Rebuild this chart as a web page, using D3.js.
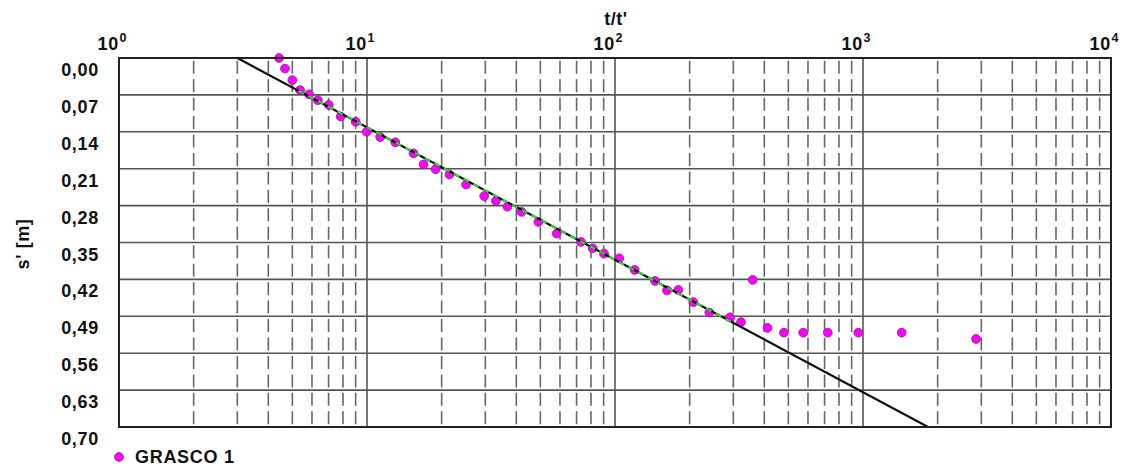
<!DOCTYPE html>
<html>
<head>
<meta charset="utf-8">
<script src="https://cdn.jsdelivr.net/npm/d3@7"></script>
<style>
  html, body { margin: 0; padding: 0; background: #fff; }
  svg { display: block; }
  text { font-family: "Liberation Sans", Arial, sans-serif; font-weight: bold; fill: #111; }
</style>
</head>
<body>
<svg id="chart" width="1122" height="468"></svg>
<script>
// ---- data ----
const xDecades = [1, 10, 100, 1000, 10000];
const xExponents = ["0", "1", "2", "3", "4"];
const yTicks = [0, 0.07, 0.14, 0.21, 0.28, 0.35, 0.42, 0.49, 0.56, 0.63, 0.70];
const tValues = [4.42, 4.67, 5.0, 5.37, 5.84, 6.33, 7.01, 7.83, 9.0, 9.97,
                 11.3, 13.0, 15.4, 16.9, 18.9, 21.5, 25.1, 29.7, 33.1, 36.8,
                 42.0, 49.1, 58.2, 72.9, 81.3, 90.3, 104, 120, 145, 162,
                 180, 207, 240, 291, 322, 359, 412, 480, 574, 721,
                 957, 1432, 2856];
const sValues = [0.000, 0.020, 0.042, 0.061, 0.069, 0.080, 0.089, 0.111, 0.121, 0.140,
                 0.150, 0.160, 0.181, 0.202, 0.211, 0.221, 0.240, 0.262, 0.271, 0.282,
                 0.292, 0.311, 0.333, 0.349, 0.361, 0.371, 0.380, 0.402, 0.423, 0.441,
                 0.440, 0.463, 0.483, 0.492, 0.501, 0.421, 0.512, 0.521, 0.521, 0.521,
                 0.521, 0.521, 0.533];
const lineT = [3, 1830];
const lineS = [0, 0.70];
const fitT = [5.3, 300];
const seriesName = "GRASCO 1";
const xTitle = "t/t'";
const yTitle = "s' [m]";

// ---- layout ----
const pLeft = 119, pRight = 1111, pTop = 58, pBottom = 427;
const svg = d3.select("#chart");
const x = d3.scaleLog().domain([1, 10000]).range([pLeft, pRight]);
const y = d3.scaleLinear().domain([0, 0.70]).range([pTop, pBottom]);
const fitLine = d3.scaleLinear().domain(lineT.map(Math.log10)).range(lineS);

// minor ticks
const minor = [];
xDecades.slice(0, -1).forEach(d => { for (let k = 2; k <= 9; k++) minor.push(d * k); });

const grid = svg.append("g");
grid.selectAll("line.h").data(yTicks.slice(1, -1)).join("line")
  .attr("x1", pLeft).attr("x2", pRight)
  .attr("y1", d => y(d)).attr("y2", d => y(d))
  .attr("stroke", "#555").attr("stroke-width", 1.6);
grid.selectAll("line.m").data(minor).join("line")
  .attr("x1", d => x(d)).attr("x2", d => x(d))
  .attr("y1", pTop).attr("y2", pBottom)
  .attr("stroke", "#666").attr("stroke-width", 1.6)
  .attr("stroke-dasharray", "13,5.45").attr("stroke-dashoffset", 15.7);
grid.selectAll("line.d").data(xDecades.slice(1, -1)).join("line")
  .attr("x1", d => x(d)).attr("x2", d => x(d))
  .attr("y1", pTop).attr("y2", pBottom)
  .attr("stroke", "#555").attr("stroke-width", 1.6);

// points
svg.append("g").selectAll("circle").data(tValues).join("circle")
  .attr("cx", d => x(d)).attr("cy", (d, i) => y(sValues[i]))
  .attr("r", 4.4)
  .attr("fill", "#ff00ff").attr("stroke", "#8a2a8a").attr("stroke-width", 0.9);

// regression line
const lineGen = d3.line().x(d => x(d)).y(d => y(fitLine(Math.log10(d))));
svg.append("path").datum(lineT).attr("d", lineGen)
  .attr("fill", "none").attr("stroke", "#111").attr("stroke-width", 2.2);
svg.append("path").datum(fitT).attr("d", lineGen)
  .attr("fill", "none").attr("stroke", "#33dd33").attr("stroke-width", 2)
  .attr("stroke-dasharray", "6,5");

// border
svg.append("rect").attr("x", pLeft).attr("y", pTop)
  .attr("width", pRight - pLeft).attr("height", pBottom - pTop)
  .attr("fill", "none").attr("stroke", "#222").attr("stroke-width", 2);

// top tick labels
const xl = svg.append("g");
xDecades.forEach((d, i) => {
  xl.append("text").attr("x", x(d)).attr("y", 50)
    .attr("text-anchor", "end").attr("font-size", 18).attr("letter-spacing", 0.8).text("10");
  xl.append("text").attr("x", x(d) + 0.5).attr("y", 42)
    .attr("font-size", 12.5).attr("font-weight", "normal").text(xExponents[i]);
});

// left tick labels
svg.append("g").selectAll("text").data(yTicks).join("text")
  .attr("x", 99).attr("y", d => y(d) + 18)
  .attr("text-anchor", "end").attr("font-size", 18).attr("letter-spacing", 0.7)
  .text(d => d.toFixed(2).replace(".", ","));

// titles
svg.append("text").attr("x", 616).attr("y", 25).attr("text-anchor", "middle")
  .attr("font-size", 18).attr("letter-spacing", 0.5).text(xTitle);
svg.append("text").attr("transform", "translate(29,244) rotate(-90)")
  .attr("text-anchor", "middle").attr("font-size", 18).attr("letter-spacing", 0.6).text(yTitle);

// legend
svg.append("circle").attr("cx", 119).attr("cy", 457).attr("r", 4.4)
  .attr("fill", "#ff00ff").attr("stroke", "#8a2a8a").attr("stroke-width", 0.9);
svg.append("text").attr("x", 135).attr("y", 463).attr("font-size", 18).attr("letter-spacing", 0.7).text(seriesName);
</script>
</body>
</html>
